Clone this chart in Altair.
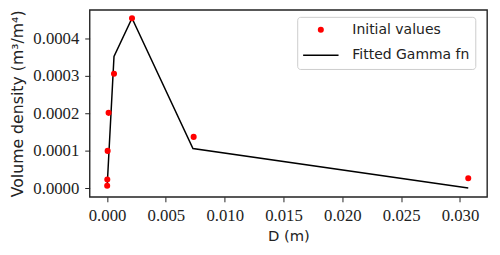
import altair as alt
import pandas as pd

# Data
d_points = [0.00001, 0.00002, 0.00005, 0.00013, 0.00059, 0.00212, 0.00736, 0.0307]
v_points = [0.0000068, 0.0000234, 0.0000997, 0.000201, 0.000305, 0.000453, 0.000137, 0.0000268]
d_fit = [0.00001, 0.00002, 0.00005, 0.00013, 0.00059, 0.00212, 0.00730, 0.0307]
v_fit = [0.000006, 0.000012, 0.000030, 0.000078, 0.000351, 0.000453, 0.000106, 0.000001]
series_names = ["Initial values", "Fitted Gamma fn"]
x_ticks = [0.0, 0.005, 0.010, 0.015, 0.020, 0.025, 0.030]
y_ticks = [0.0, 0.0001, 0.0002, 0.0003, 0.0004]

pts = pd.DataFrame({"D": d_points, "V": v_points, "series": series_names[0]})
fit = pd.DataFrame({"D": d_fit, "V": v_fit})

xscale = alt.Scale(domain=[-0.00148, 0.0323], nice=False, zero=False)
yscale = alt.Scale(domain=[-0.0000227, 0.000475], nice=False, zero=False)

tick_font = "Liberation Serif, serif"
sans = "DejaVu Sans"

xaxis = alt.Axis(values=x_ticks, format=".3f", title="D (m)", grid=False, domain=False,
                 tickSize=5, tickColor="#222", labelFont=tick_font, labelFontSize=17,
                 labelColor="#222", labelPadding=6, titleFont=sans, titleFontSize=15,
                 titleFontWeight="normal", titleColor="#222", titlePadding=5)
yaxis = alt.Axis(values=y_ticks, format=".4f", title="Volume density (m³/m⁴)", grid=False,
                 domain=False, tickSize=5, tickColor="#222", labelFont=tick_font,
                 labelFontSize=17, labelColor="#222", labelPadding=6, titleFont=sans,
                 titleFontSize=16, titleFontWeight="normal", titleColor="#222",
                 titlePadding=8)

legend = alt.Legend(
    title=None, orient="none", legendX=211, legendY=7,
    fillColor="white", strokeColor="#cccccc", cornerRadius=3, padding=6,
    labelFont=sans, labelFontSize=14.2, labelColor="#222",
    labelOffset=14, rowPadding=-12, symbolStrokeWidth=0, symbolOpacity=1,
)

line = alt.Chart(fit).mark_line(strokeWidth=1.5, color="#000000").encode(
    x=alt.X("D:Q", scale=xscale, axis=xaxis),
    y=alt.Y("V:Q", scale=yscale, axis=yaxis),
)
points = alt.Chart(pts).mark_point(filled=True, opacity=1).encode(
    x=alt.X("D:Q", scale=xscale, axis=xaxis),
    y=alt.Y("V:Q", scale=yscale, axis=yaxis),
    color=alt.Color("series:N", scale=alt.Scale(domain=series_names, range=["#ff0000", "#000000"]),
                    legend=legend),
    shape=alt.Shape("series:N", scale=alt.Scale(domain=series_names,
                    range=["circle", "M-1,-0.042H1V0.042H-1Z"]), legend=legend),
    size=alt.Size("series:N", scale=alt.Scale(domain=series_names, range=[38, 1296]),
                  legend=legend),
)

chart = alt.layer(line, points).properties(
    width=404, height=190,
    autosize=alt.AutoSizeParams(type="none"),
    padding={"left": 83, "top": 0, "right": 5, "bottom": 50},
    background="white",
).configure_view(stroke="#222", strokeWidth=1.4)

chart.save("out.html", embed_options={"renderer": "svg", "actions": False})
